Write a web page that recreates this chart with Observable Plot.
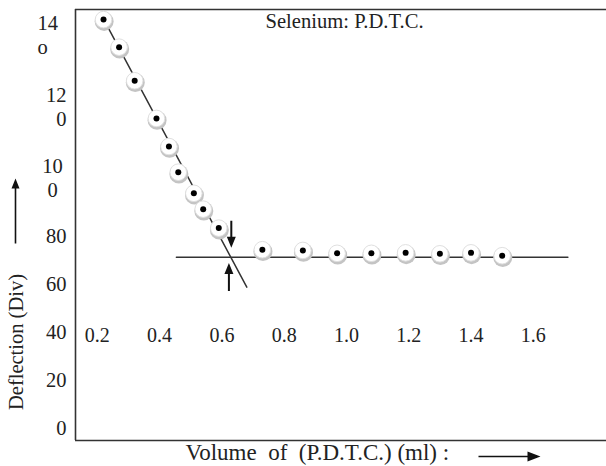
<!DOCTYPE html>
<html><head><meta charset="utf-8">
<script src="https://cdn.jsdelivr.net/npm/d3@7"></script>
<script src="https://cdn.jsdelivr.net/npm/@observablehq/plot@0.6"></script>
<style>
body{margin:0;background:#fff;}
#chart{width:606px;height:466px;overflow:hidden;}
</style>
</head><body><div id="chart"></div>
<script>
// Data
const volume     = [0.22, 0.27, 0.32, 0.39, 0.43, 0.46, 0.51, 0.54, 0.59, 0.73, 0.86, 0.97, 1.08, 1.19, 1.30, 1.40, 1.50];
const deflection = [170.4, 158.9, 144.9, 129.2, 117.5, 106.8, 98.0, 91.4, 83.5, 74.5, 74.2, 73.0, 73.0, 73.2, 72.8, 73.2, 72.0];

// Hand-drawn fit lines (deflection units)
const fitX = [0.221, 0.68];
const fitY = [170.4, 58.9];
const plateauX = [0.454, 1.711];
const plateauY = [71.4, 71.4];

// End-point marker arrows: tips (down arrow, up arrow)
const endArrowX = [0.6303, 0.6226];
const endArrowY = [75.3, 69.0];
const endArrowDir = ["down", "up"];

// Tick labels
const xTicks = [0.2, 0.4, 0.6, 0.8, 1.0, 1.2, 1.4, 1.6];
const xTickLabels = ["0.2", "0.4", "0.6", "0.8", "1.0", "1.2", "1.4", "1.6"];
const yTicks = [0, 20, 40, 60, 80];
const yTickLabels = ["0", "20", "40", "60", "80"];
// wrapped labels as they sit in the picture
const yWrapTicks = [104.6, 134.2, 164.4];
const yWrapLabels = ["10\n0", "12\n0", "14\no"];

const xDomain = [0.13, 1.835];
const yDomain = [-5, 174.6];

const points = volume.map((v, i) => ({x: v, y: deflection[i]}));
const fit = fitX.map((v, i) => ({x: v, y: fitY[i]}));
const plateau = plateauX.map((v, i) => ({x: v, y: plateauY[i]}));
const endArrows = endArrowX.map((v, i) => ({x: v, y: endArrowY[i], dir: endArrowDir[i]}));

function arrowSymbol(dir, len, head, half, shaft) {
  const base = [[0,0],[-half,-head],[-shaft,-head],[-shaft,-len],[shaft,-len],[shaft,-head],[half,-head]];
  const map = {down: ([a,b]) => [a,b], up: ([a,b]) => [a,-b], right: ([a,b]) => [b,a]}[dir];
  const pts = base.map(map);
  return {draw(ctx) {
    ctx.moveTo(pts[0][0], pts[0][1]);
    for (let k = 1; k < pts.length; k++) ctx.lineTo(pts[k][0], pts[k][1]);
    ctx.closePath();
  }};
}

const ink = "#222";
const F = "Liberation Serif, Times New Roman, serif";

const chart = Plot.plot({
  width: 606, height: 466,
  marginLeft: 75, marginRight: 0, marginTop: 9, marginBottom: 26,
  x: {domain: xDomain, axis: null},
  y: {domain: yDomain, axis: null},
  style: {fontFamily: F, background: "white", color: ink},
  marks: [
    Plot.ruleY([yDomain[0]], {stroke: "#333", strokeWidth: 1.6}),
    Plot.ruleY([yDomain[1]], {stroke: "#333", strokeWidth: 1.6}),
    Plot.ruleX([xDomain[0]], {stroke: "#333", strokeWidth: 1.6}),
    Plot.line(fit, {x: "x", y: "y", stroke: "#333", strokeWidth: 1.5}),
    Plot.line(plateau, {x: "x", y: "y", stroke: "#333", strokeWidth: 1.5}),
    Plot.dot(endArrows.filter(d => d.dir === "down"), {x: "x", y: "y", symbol: arrowSymbol("down", 27, 11, 4.5, 1), fill: "#111", stroke: "none"}),
    Plot.dot(endArrows.filter(d => d.dir === "up"), {x: "x", y: "y", symbol: arrowSymbol("up", 28, 11, 4.5, 1), fill: "#111", stroke: "none"}),
    // markers
    Plot.dot(points, {x: "x", y: "y", r: 9.5, fill: "#c4c4c4", dx: 0.6, dy: 1.8}),
    Plot.dot(points, {x: "x", y: "y", r: 8.3, fill: "white", stroke: "#e0e0e0", strokeWidth: 1}),
    Plot.dot(points, {x: "x", y: "y", r: 3, fill: "#000"}),
    // x tick labels (inside the plot)
    Plot.text(xTicks, {x: d => d, text: (d, i) => xTickLabels[i], frameAnchor: "bottom", dy: -99, fontSize: 20, fill: ink}),
    // y tick labels
    Plot.text(yTicks, {y: d => d, text: (d, i) => yTickLabels[i], frameAnchor: "left", dx: -9, textAnchor: "end", fontSize: 20.5, fill: ink}),
    Plot.text([yWrapTicks[0]], {y: d => d, text: [yWrapLabels[0]], frameAnchor: "left", dx: -23, textAnchor: "middle", fontSize: 20.5, lineHeight: 1.15, fill: ink}),
    Plot.text([yWrapTicks[1]], {y: d => d, text: [yWrapLabels[1]], frameAnchor: "left", dx: -9, textAnchor: "end", fontSize: 20.5, lineHeight: 1.15, fill: ink}),
    Plot.text([yWrapTicks[2]], {y: d => d, text: [yWrapLabels[2]], frameAnchor: "left", dx: -38, textAnchor: "start", fontSize: 20.5, lineHeight: 1.2, fill: ink}),
    // title
    Plot.text(["Selenium: P.D.T.C."], {frameAnchor: "top-left", dx: 190, dy: 11.5, textAnchor: "start", lineAnchor: "middle", fontSize: 20.6, fill: ink}),
    // axis titles
    Plot.text(["Deflection (Div)"], {frameAnchor: "left", dx: -59, dy: 117, rotate: -90, textAnchor: "middle", lineAnchor: "middle", fontSize: 20.5, fill: ink}),
    Plot.dot([0], {frameAnchor: "left", dx: -60, dy: -46.5, symbol: arrowSymbol("up", 65, 10, 4, 0.8), fill: "#111", stroke: "none"}),
    Plot.text(["Volume\u00A0\u00A0of\u00A0\u00A0(P.D.T.C.)\u00A0(ml)\u00A0:"], {frameAnchor: "bottom-left", dx: 110, dy: 12.5, textAnchor: "start", lineAnchor: "middle", fontSize: 23, fill: ink}),
    Plot.dot([0], {frameAnchor: "bottom-left", dx: 465, dy: 16, symbol: arrowSymbol("right", 62, 13, 5, 0.8), fill: "#111", stroke: "none"})
  ]
});
document.getElementById("chart").appendChild(chart);
</script>
</body></html>
